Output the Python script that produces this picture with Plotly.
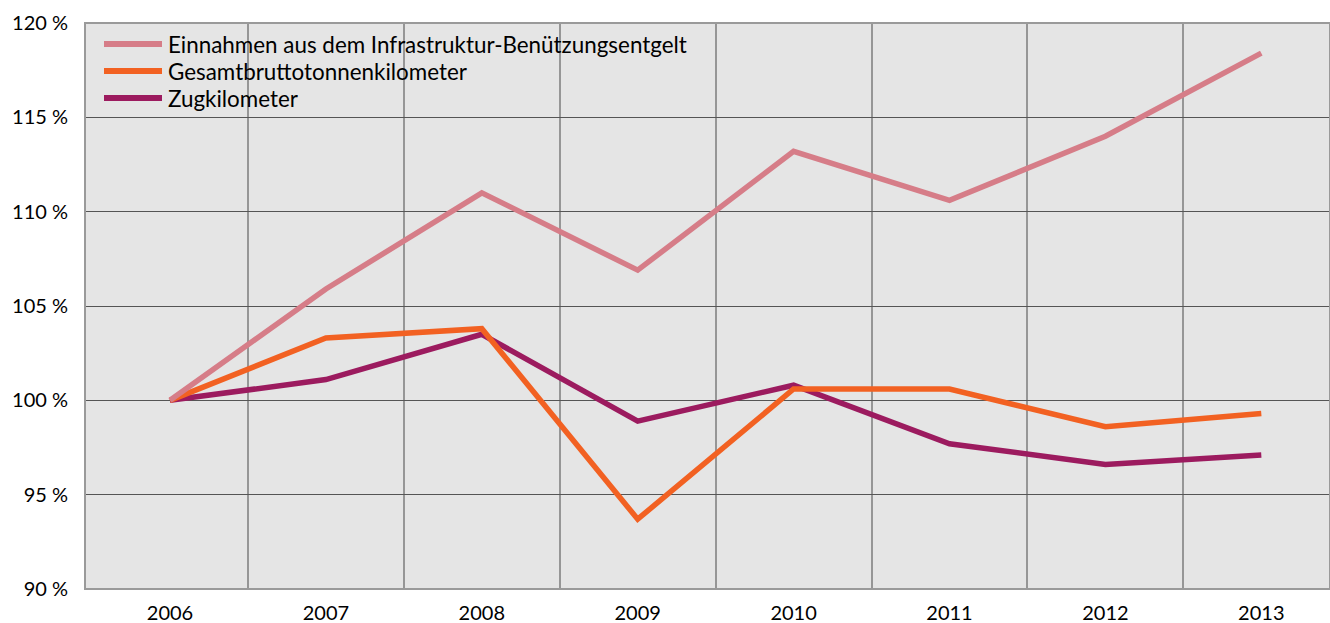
import plotly.graph_objects as go

years = [2006, 2007, 2008, 2009, 2010, 2011, 2012, 2013]
einnahmen = [100.0, 105.9, 111.0, 106.9, 113.2, 110.6, 114.0, 118.4]
gesamt = [100.0, 103.3, 103.8, 93.7, 100.6, 100.6, 98.6, 99.3]
zug = [100.0, 101.1, 103.5, 98.9, 100.8, 97.7, 96.6, 97.1]
names = ["Einnahmen aus dem Infrastruktur-Benützungsentgelt",
         "Gesamtbruttotonnenkilometer", "Zugkilometer"]
colors = ["#d67d88", "#f26122", "#9c1b5f"]
series = [einnahmen, gesamt, zug]
y_ticks = [90, 95, 100, 105, 110, 115, 120]
y_labels = [f"{v} %" for v in y_ticks]

W, H = 1330, 623
L, R, T, B = 85, 0, 23, 34
pw, ph = W - L - R, H - T - B

fig = go.Figure()
# draw order: Zug bottom, then Gesamt, then Einnahmen
for i in [2, 1, 0]:
    fig.add_trace(go.Scatter(x=years, y=series[i], mode="lines", name=names[i],
                             line=dict(color=colors[i], width=5.5),
                             showlegend=False, hoverinfo="x+y"))

font = "Lato, 'Open Sans', sans-serif"
shapes = []
annotations = []
leg_y = [44, 71, 98]
for i, nm in enumerate(names):
    py = (H - B - leg_y[i]) / ph
    shapes.append(dict(type="line", xref="paper", yref="paper",
                       x0=(104 - L) / pw, x1=(162 - L) / pw, y0=py, y1=py,
                       line=dict(color=colors[i], width=6), layer="above"))
    annotations.append(dict(xref="paper", yref="paper", x=(166 - L) / pw, y=py,
                            text=nm, showarrow=False, xanchor="left", yanchor="middle",
                            font=dict(family=font, size=22.4, color="#000")))
# plot border
shapes.append(dict(type="rect", xref="paper", yref="paper", x0=0, x1=1, y0=0, y1=1,
                   line=dict(color="#9a9a9a", width=2), layer="above"))

x0 = 2006 - (170 - L) / 155.9
x1 = 2006 + (W - R - 170) / 155.9

fig.update_layout(
    width=W, height=H,
    margin=dict(l=L, r=R, t=T, b=B),
    paper_bgcolor="white", plot_bgcolor="#e5e5e5",
    font=dict(family=font, size=20, color="#000"),
    shapes=shapes, annotations=annotations,
    xaxis=dict(range=[x0, x1], tickvals=years, ticktext=[str(y) for y in years],
               showgrid=False, zeroline=False, showline=False, ticks="",
               ticklabelstandoff=10,
               minor=dict(tickvals=[y + 0.5 for y in years[:-1]], showgrid=True,
                          gridcolor="#969696", gridwidth=1.5, ticks="")),
    yaxis=dict(range=[90, 120], tickvals=y_ticks, ticktext=y_labels,
               showgrid=True, gridcolor="#555555", gridwidth=1, zeroline=False,
               showline=False, ticks="", ticklabelstandoff=16),
)

fig.write_html("out.html", config={"displayModeBar": False})
with open("out.html", "r", encoding="utf-8") as f:
    html = f.read()
html = html.replace("<head>", "<head><style>html,body{margin:0;padding:0;overflow:hidden}</style>", 1)
with open("out.html", "w", encoding="utf-8") as f:
    f.write(html)
